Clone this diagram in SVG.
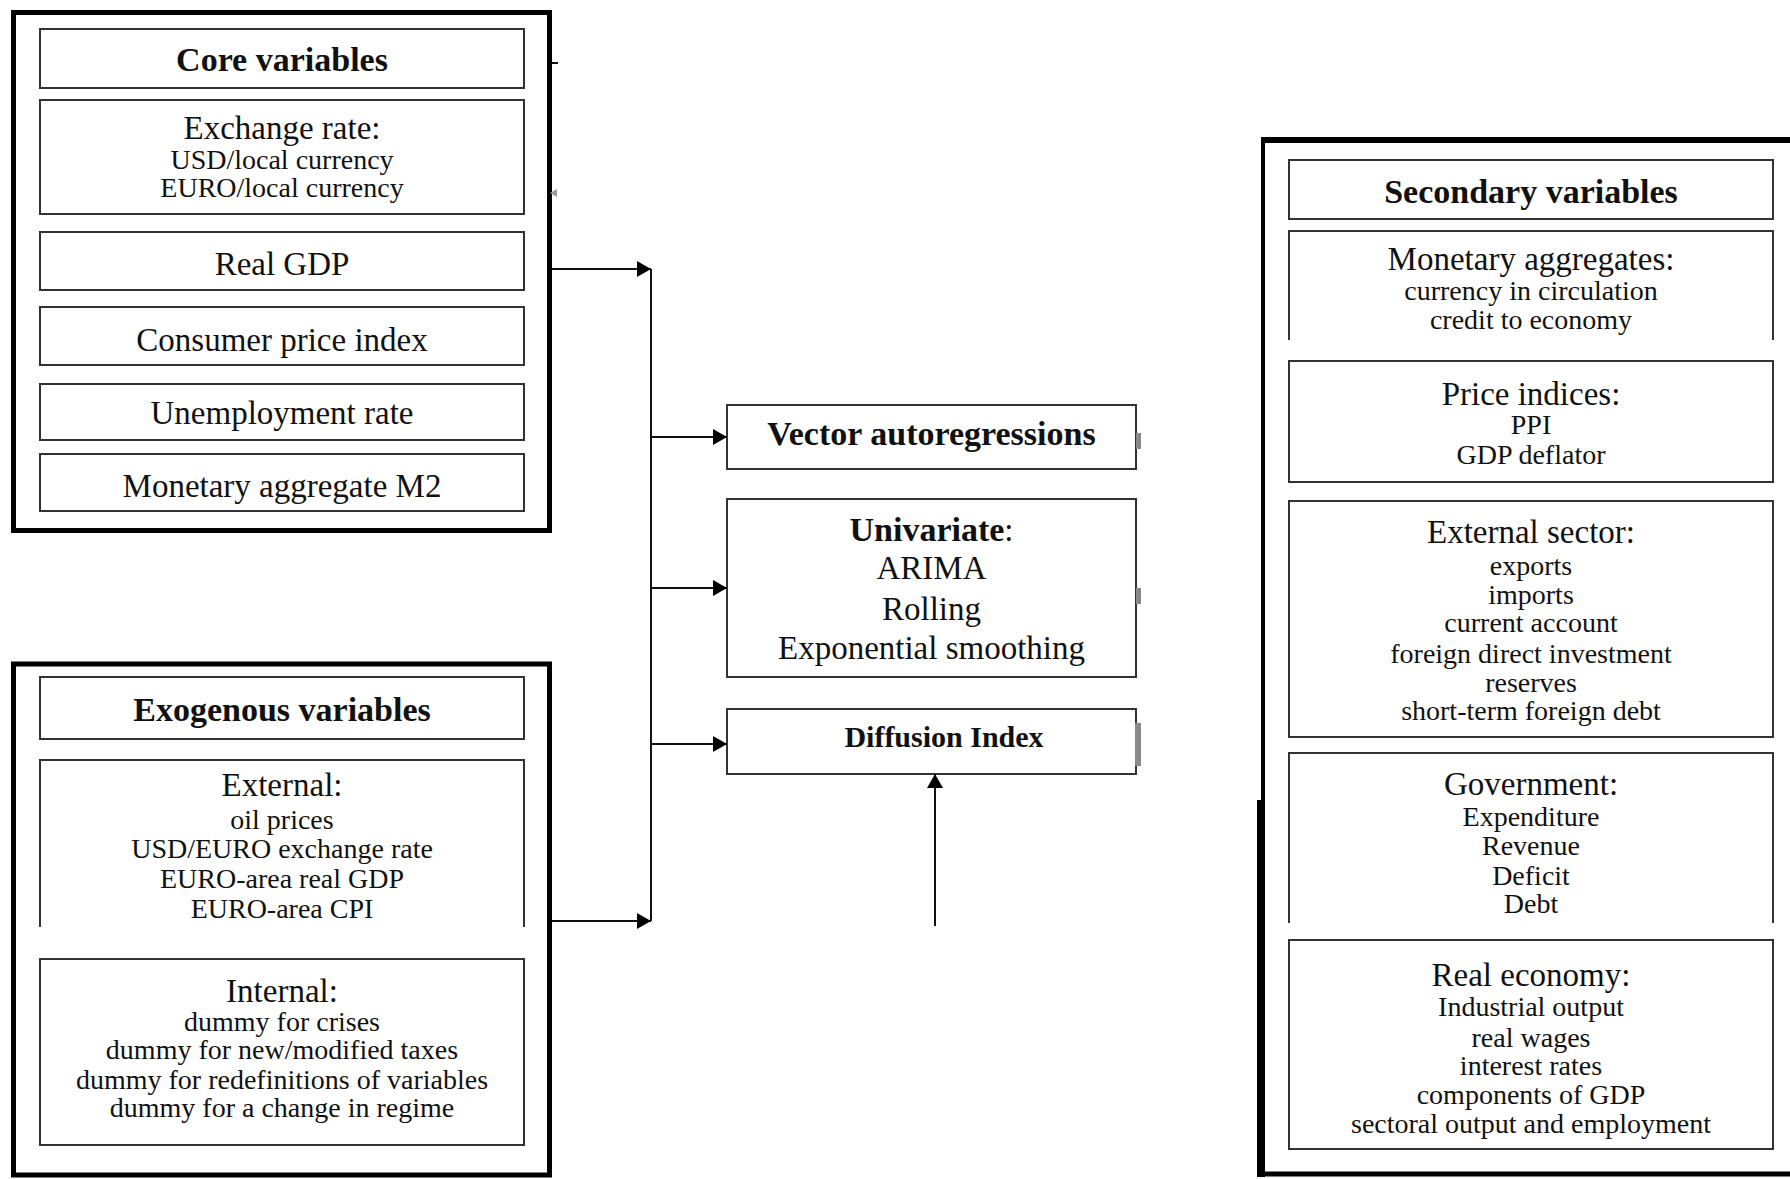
<svg xmlns="http://www.w3.org/2000/svg" width="1790" height="1179" viewBox="0 0 1790 1179">
<defs>
<marker id="ah" markerUnits="userSpaceOnUse" markerWidth="15" markerHeight="16" refX="14" refY="8" orient="auto">
<path d="M0,0 L14,8 L0,16 z" fill="#000"/>
</marker>
<style>
text{font-family:"Liberation Serif","Times New Roman",serif;fill:#111;text-anchor:middle}
.b{font-weight:bold;font-size:34px}
.h{font-size:33px}
.s{font-size:28px}
.box{fill:none;stroke:#333;stroke-width:2}
.outer{fill:none;stroke:#000;stroke-width:5}
.con{fill:none;stroke:#111;stroke-width:2}
.mark{fill:#8a8a8a}
</style>
</defs>
<rect width="1790" height="1179" fill="#fff"/>

<g id="core">
<rect class="outer" x="13.5" y="12.5" width="536" height="518"/>
<g id="core-title"><rect class="box" x="40" y="29" width="484" height="59"/><text class="b" x="282" y="71">Core variables</text></g>
<g id="exchange-rate"><rect class="box" x="40" y="100" width="484" height="114"/>
<text class="h" x="282" y="139">Exchange rate:</text>
<text class="s" x="282" y="169">USD/local currency</text>
<text class="s" x="282" y="197">EURO/local currency</text></g>
<g id="real-gdp"><rect class="box" x="40" y="232" width="484" height="58"/><text class="h" x="282" y="275">Real GDP</text></g>
<g id="cpi"><rect class="box" x="40" y="307" width="484" height="58"/><text class="h" x="282" y="351">Consumer price index</text></g>
<g id="unemployment"><rect class="box" x="40" y="384" width="484" height="56"/><text class="h" x="282" y="424">Unemployment rate</text></g>
<g id="m2"><rect class="box" x="40" y="454" width="484" height="57"/><text class="h" x="282" y="497">Monetary aggregate M2</text></g>
</g>

<g id="exogenous">
<rect class="outer" x="13.5" y="664" width="536" height="511"/>
<g id="exo-title"><rect class="box" x="40" y="677" width="484" height="62"/><text class="b" x="282" y="721">Exogenous variables</text></g>
<g id="external"><path class="box" d="M40,927 V760 H524 V927"/>
<text class="h" x="282" y="796">External:</text>
<text class="s" x="282" y="829">oil prices</text>
<text class="s" x="282" y="858">USD/EURO exchange rate</text>
<text class="s" x="282" y="888">EURO-area real GDP</text>
<text class="s" x="282" y="918">EURO-area CPI</text></g>
<g id="internal"><rect class="box" x="40" y="959" width="484" height="186"/>
<text class="h" x="282" y="1002">Internal:</text>
<text class="s" x="282" y="1031">dummy for crises</text>
<text class="s" x="282" y="1059">dummy for new/modified taxes</text>
<text class="s" x="282" y="1089">dummy for redefinitions of variables</text>
<text class="s" x="282" y="1117">dummy for a change in regime</text></g>
</g>

<g id="var"><rect class="box" x="727" y="405" width="409" height="64"/><rect class="mark" x="1136" y="433" width="5" height="16"/>
<text class="b" x="931.5" y="445">Vector autoregressions</text></g>
<g id="univariate"><rect class="box" x="727" y="499" width="409" height="178"/><rect class="mark" x="1136" y="588" width="5" height="16"/>
<text class="h" x="931.5" y="541"><tspan font-weight="bold" font-size="34">Univariate</tspan>:</text>
<text class="h" x="931.5" y="579">ARIMA</text>
<text class="h" x="931.5" y="620">Rolling</text>
<text class="h" x="931.5" y="659">Exponential smoothing</text></g>
<g id="diffusion"><rect class="box" x="727" y="709" width="409" height="65"/><rect class="mark" x="1135" y="723" width="6" height="43"/>
<text x="944" y="747" font-size="30" font-weight="bold">Diffusion Index</text></g>

<g id="secondary">
<path fill="none" stroke="#000" stroke-width="6" d="M1261,140 H1790"/>
<path fill="none" stroke="#000" stroke-width="4" d="M1263,137 V800"/>
<path fill="none" stroke="#000" stroke-width="8" d="M1261,800 V1177"/>
<path fill="none" stroke="#000" stroke-width="5" d="M1257,1174 H1790"/>
<g id="sec-title"><rect class="box" x="1289" y="160" width="484" height="59"/><text class="b" x="1531" y="203">Secondary variables</text></g>
<g id="monetary"><path class="box" d="M1289,340 V231 H1773 V340"/>
<text class="h" x="1531" y="270">Monetary aggregates:</text>
<text class="s" x="1531" y="300">currency in circulation</text>
<text class="s" x="1531" y="329">credit to economy</text></g>
<g id="price"><rect class="box" x="1289" y="361" width="484" height="121"/>
<text class="h" x="1531" y="405">Price indices:</text>
<text class="s" x="1531" y="434">PPI</text>
<text class="s" x="1531" y="464">GDP deflator</text></g>
<g id="external-sector"><rect class="box" x="1289" y="501" width="484" height="236"/>
<text class="h" x="1531" y="543">External sector:</text>
<text class="s" x="1531" y="575">exports</text>
<text class="s" x="1531" y="604">imports</text>
<text class="s" x="1531" y="632">current account</text>
<text class="s" x="1531" y="663">foreign direct investment</text>
<text class="s" x="1531" y="692">reserves</text>
<text class="s" x="1531" y="720">short-term foreign debt</text></g>
<g id="government"><path class="box" d="M1289,923 V753 H1773 V923"/>
<text class="h" x="1531" y="795">Government:</text>
<text class="s" x="1531" y="826">Expenditure</text>
<text class="s" x="1531" y="855">Revenue</text>
<text class="s" x="1531" y="885">Deficit</text>
<text class="s" x="1531" y="913">Debt</text></g>
<g id="real-economy"><rect class="box" x="1289" y="940" width="484" height="209"/>
<text class="h" x="1531" y="986">Real economy:</text>
<text class="s" x="1531" y="1016">Industrial output</text>
<text class="s" x="1531" y="1047">real wages</text>
<text class="s" x="1531" y="1075">interest rates</text>
<text class="s" x="1531" y="1104">components of GDP</text>
<text class="s" x="1531" y="1133">sectoral output and employment</text></g>
</g>

<g id="connectors">
<path class="con" d="M552,63 H558"/>
<polygon points="550,193 557,189 557,197" fill="#999"/>
<path class="con" d="M552,269 H651" marker-end="url(#ah)"/>
<path class="con" d="M552,921 H651" marker-end="url(#ah)"/>
<path class="con" d="M651,269 V921"/>
<path class="con" d="M651,437 H727" marker-end="url(#ah)"/>
<path class="con" d="M651,588 H727" marker-end="url(#ah)"/>
<path class="con" d="M651,744 H727" marker-end="url(#ah)"/>
<path class="con" d="M935,926 V774" marker-end="url(#ah)"/>
</g>
</svg>
